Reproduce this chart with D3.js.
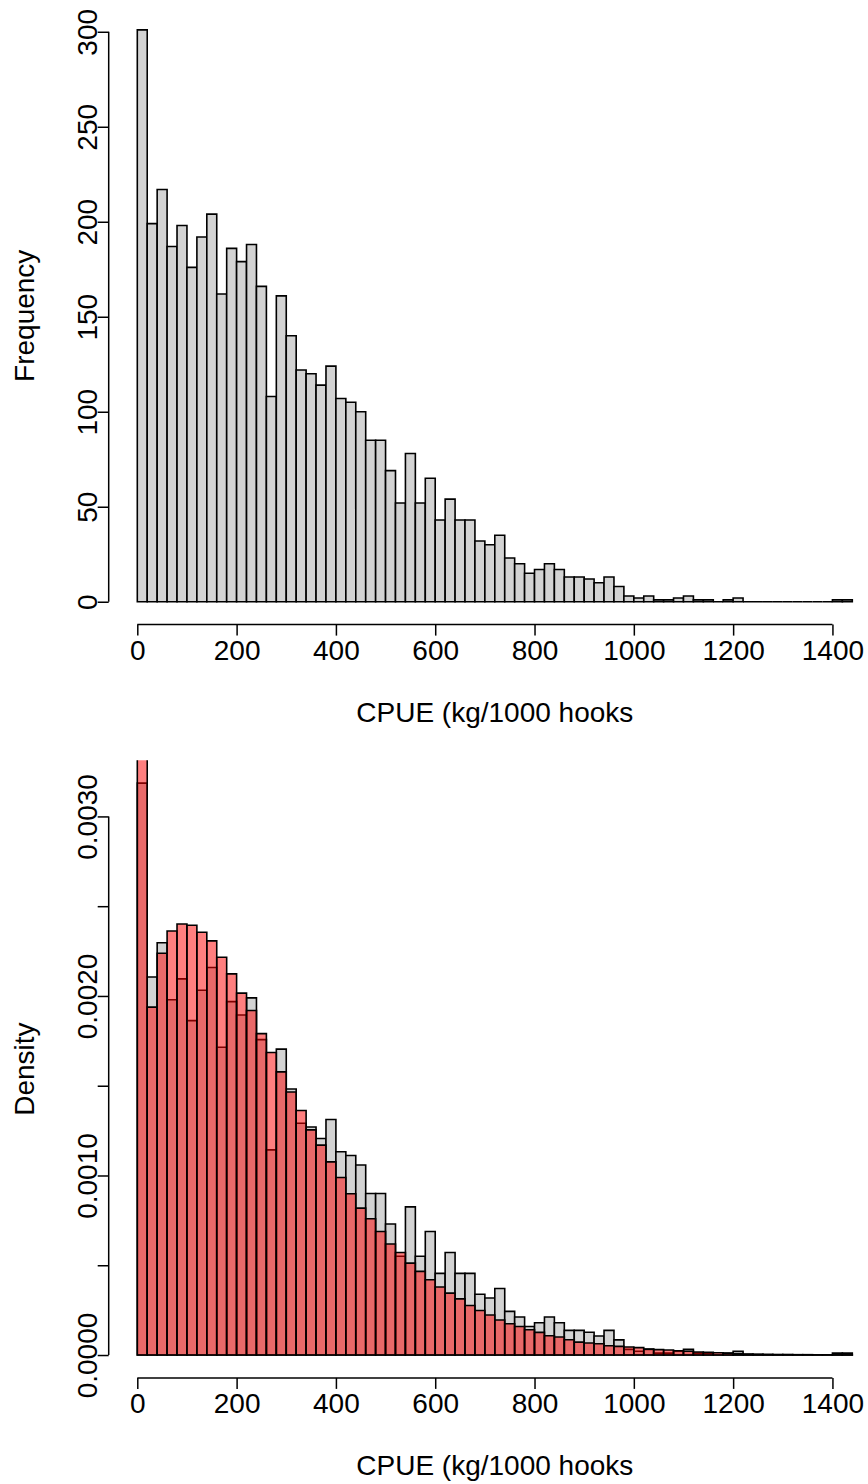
<!DOCTYPE html>
<html>
<head>
<meta charset="utf-8">
<script src="https://cdn.jsdelivr.net/npm/d3@7"></script>
<style>
  html, body { margin: 0; padding: 0; background: #ffffff; }
  svg { display: block; }
  text { font-family: "Liberation Sans", Arial, sans-serif; fill: #000; }
</style>
</head>
<body>
<div id="chart"></div>
<script>
// ---------------- DATA ----------------
const breaks = [0,20,40,60,80,100,120,140,160,180,200,220,240,260,280,300,320,340,360,380,
  400,420,440,460,480,500,520,540,560,580,600,620,640,660,680,700,720,740,760,780,
  800,820,840,860,880,900,920,940,960,980,1000,1020,1040,1060,1080,1100,1120,1140,1160,1180,
  1200,1220,1240,1260,1280,1300,1320,1340,1360,1380,1400,1420,1440];

// observed CPUE counts per bin (top panel)
const counts = [301,199,217,187,198,176,192,204,162,186,
  179,188,166,108,161,140,122,120,114,124,
  107,105,100,85,85,69,52,78,52,65,
  43,54,43,43,32,30,35,23,20,15,
  17,20,17,13,13,12,10,13,8,3,
  2,3,1,1,2,3,1,1,0,1,
  2,0,0,0,0,0,0,0,0,0,
  1,1];

// overlaid (red) density per bin (bottom panel)
const redDensity = [0.004000,0.001938,0.002238,0.002362,0.002401,0.002394,0.002355,0.002307,0.002216,0.002123,
  0.002016,0.001919,0.001790,0.001685,0.001577,0.001465,0.001362,0.001254,0.001169,0.001076,
  0.000989,0.000898,0.000818,0.000759,0.000688,0.000618,0.000571,0.000512,0.000466,0.000419,
  0.000379,0.000345,0.000313,0.000276,0.000248,0.000223,0.000195,0.000174,0.000159,0.000141,
  0.000126,0.000107,0.000100,0.000085,0.000072,0.000067,0.000063,0.000052,0.000048,0.000045,
  0.000041,0.000033,0.000030,0.000028,0.000024,0.000021,0.000017,0.000015,0.000013,0.000010,
  0.000008,0.000006,0.000005,0.000004,0.000003,0.000003,0.000002,0.000002,0.000001,0.000001,
  0.000001,0.000001];

const xTicks = [0,200,400,600,800,1000,1200,1400];
const xTickLabels = ["0","200","400","600","800","1000","1200","1400"];
const freqTicks = [0,50,100,150,200,250,300];
const freqTickLabels = ["0","50","100","150","200","250","300"];
const densTicks = [0,0.0005,0.0010,0.0015,0.0020,0.0025,0.0030];
const densTickLabels = ["0.0000","","0.0010","","0.0020","","0.0030"];
const xTitle = "CPUE (kg/1000 hooks";
const topYTitle = "Frequency";
const botYTitle = "Density";

// ---------------- LAYOUT ----------------
const W = 868, H = 1484;
const FS = 28;
const plotLeft = 108.7, plotRight = 880.9;
const topPanel = {top: 7, bottom: 624.6};
const botPanel = {top: 760.3, bottom: 1377.9};

const svg = d3.select("#chart").append("svg")
  .attr("width", W).attr("height", H)
  .attr("viewBox", `0 0 ${W} ${H}`);

const lo = breaks[0], hi = breaks[breaks.length - 1];
const xpad = 0.04 * (hi - lo);
const x = d3.scaleLinear().domain([lo - xpad, hi + xpad]).range([plotLeft, plotRight]);

const nTotal = d3.sum(counts);
const binW = breaks[1] - breaks[0];
const grayDensity = counts.map(c => c / (nTotal * binW));

function bins(values) {
  return values.map((v, i) => ({x0: breaks[i], x1: breaks[i + 1], v}));
}

function barPath(d, y) {
  const p = d3.path();
  const x0 = x(d.x0), x1 = x(d.x1), y0 = y(0), y1 = y(d.v);
  p.moveTo(x0, y0); p.lineTo(x0, y1); p.lineTo(x1, y1); p.lineTo(x1, y0); p.closePath();
  return p.toString();
}

function drawPanel(panel, id, series, tickVals, tickLabels, yTitle) {
  const maxV = d3.max(series[0].values);
  const y = d3.scaleLinear().domain([-0.04 * maxV, 1.04 * maxV]).range([panel.bottom, panel.top]);

  svg.append("clipPath").attr("id", id)
    .append("rect")
    .attr("x", plotLeft).attr("y", panel.top)
    .attr("width", plotRight - plotLeft).attr("height", panel.bottom - panel.top);

  const g = svg.append("g").attr("clip-path", `url(#${id})`);
  series.forEach(s => {
    g.append("g").selectAll("path")
      .data(bins(s.values))
      .join("path")
      .attr("d", d => barPath(d, y))
      .attr("fill", s.fill)
      .attr("stroke", "#000")
      .attr("stroke-width", 1.6)
      .attr("stroke-linejoin", "miter");
  });

  // x axis (R style: line spans first to last tick)
  const xa = svg.append("g")
    .attr("transform", `translate(0,${panel.bottom})`)
    .call(d3.axisBottom(x).tickValues(xTicks)
      .tickFormat((d, i) => xTickLabels[i]).tickSize(11).tickSizeOuter(0));
  xa.select(".domain").attr("d", `M${x(xTicks[0])},0H${x(xTicks[xTicks.length - 1])}`);
  xa.selectAll("line, path").attr("stroke", "#000").attr("stroke-width", 1.5);
  xa.selectAll("text")
    .attr("y", 35.4).attr("dy", null)
    .style("font-size", FS + "px")
    .style("font-family", '"Liberation Sans", Arial, sans-serif')
    .attr("fill", "#000");

  // y axis
  const ya = svg.append("g")
    .attr("transform", `translate(${plotLeft},0)`)
    .call(d3.axisLeft(y).tickValues(tickVals)
      .tickFormat((d, i) => tickLabels[i]).tickSize(11).tickSizeOuter(0));
  ya.select(".domain").attr("d", `M0,${y(tickVals[0])}V${y(tickVals[tickVals.length - 1])}`);
  ya.selectAll("line, path").attr("stroke", "#000").attr("stroke-width", 1.5);
  ya.selectAll("text")
    .attr("x", 0).attr("y", 0).attr("dy", null)
    .attr("transform", "translate(-11.7,0) rotate(-90)")
    .attr("text-anchor", "middle")
    .style("font-size", FS + "px")
    .style("font-family", '"Liberation Sans", Arial, sans-serif')
    .attr("fill", "#000");

  // titles
  svg.append("text")
    .attr("x", (plotLeft + plotRight) / 2)
    .attr("y", panel.bottom + 97.5)
    .attr("text-anchor", "middle")
    .style("font-size", FS + "px")
    .text(xTitle);

  const cy = (panel.top + panel.bottom) / 2;
  svg.append("text")
    .attr("transform", `translate(33.5,${cy}) rotate(-90)`)
    .attr("text-anchor", "middle")
    .style("font-size", FS + "px")
    .text(yTitle);
}

drawPanel(topPanel, "clipTop", [{values: counts, fill: "#d3d3d3"}],
  freqTicks, freqTickLabels, topYTitle);

drawPanel(botPanel, "clipBot", [
  {values: grayDensity, fill: "#d3d3d3"},
  {values: redDensity, fill: "rgba(255,0,0,0.5)"}
], densTicks, densTickLabels, botYTitle);
</script>
</body>
</html>
